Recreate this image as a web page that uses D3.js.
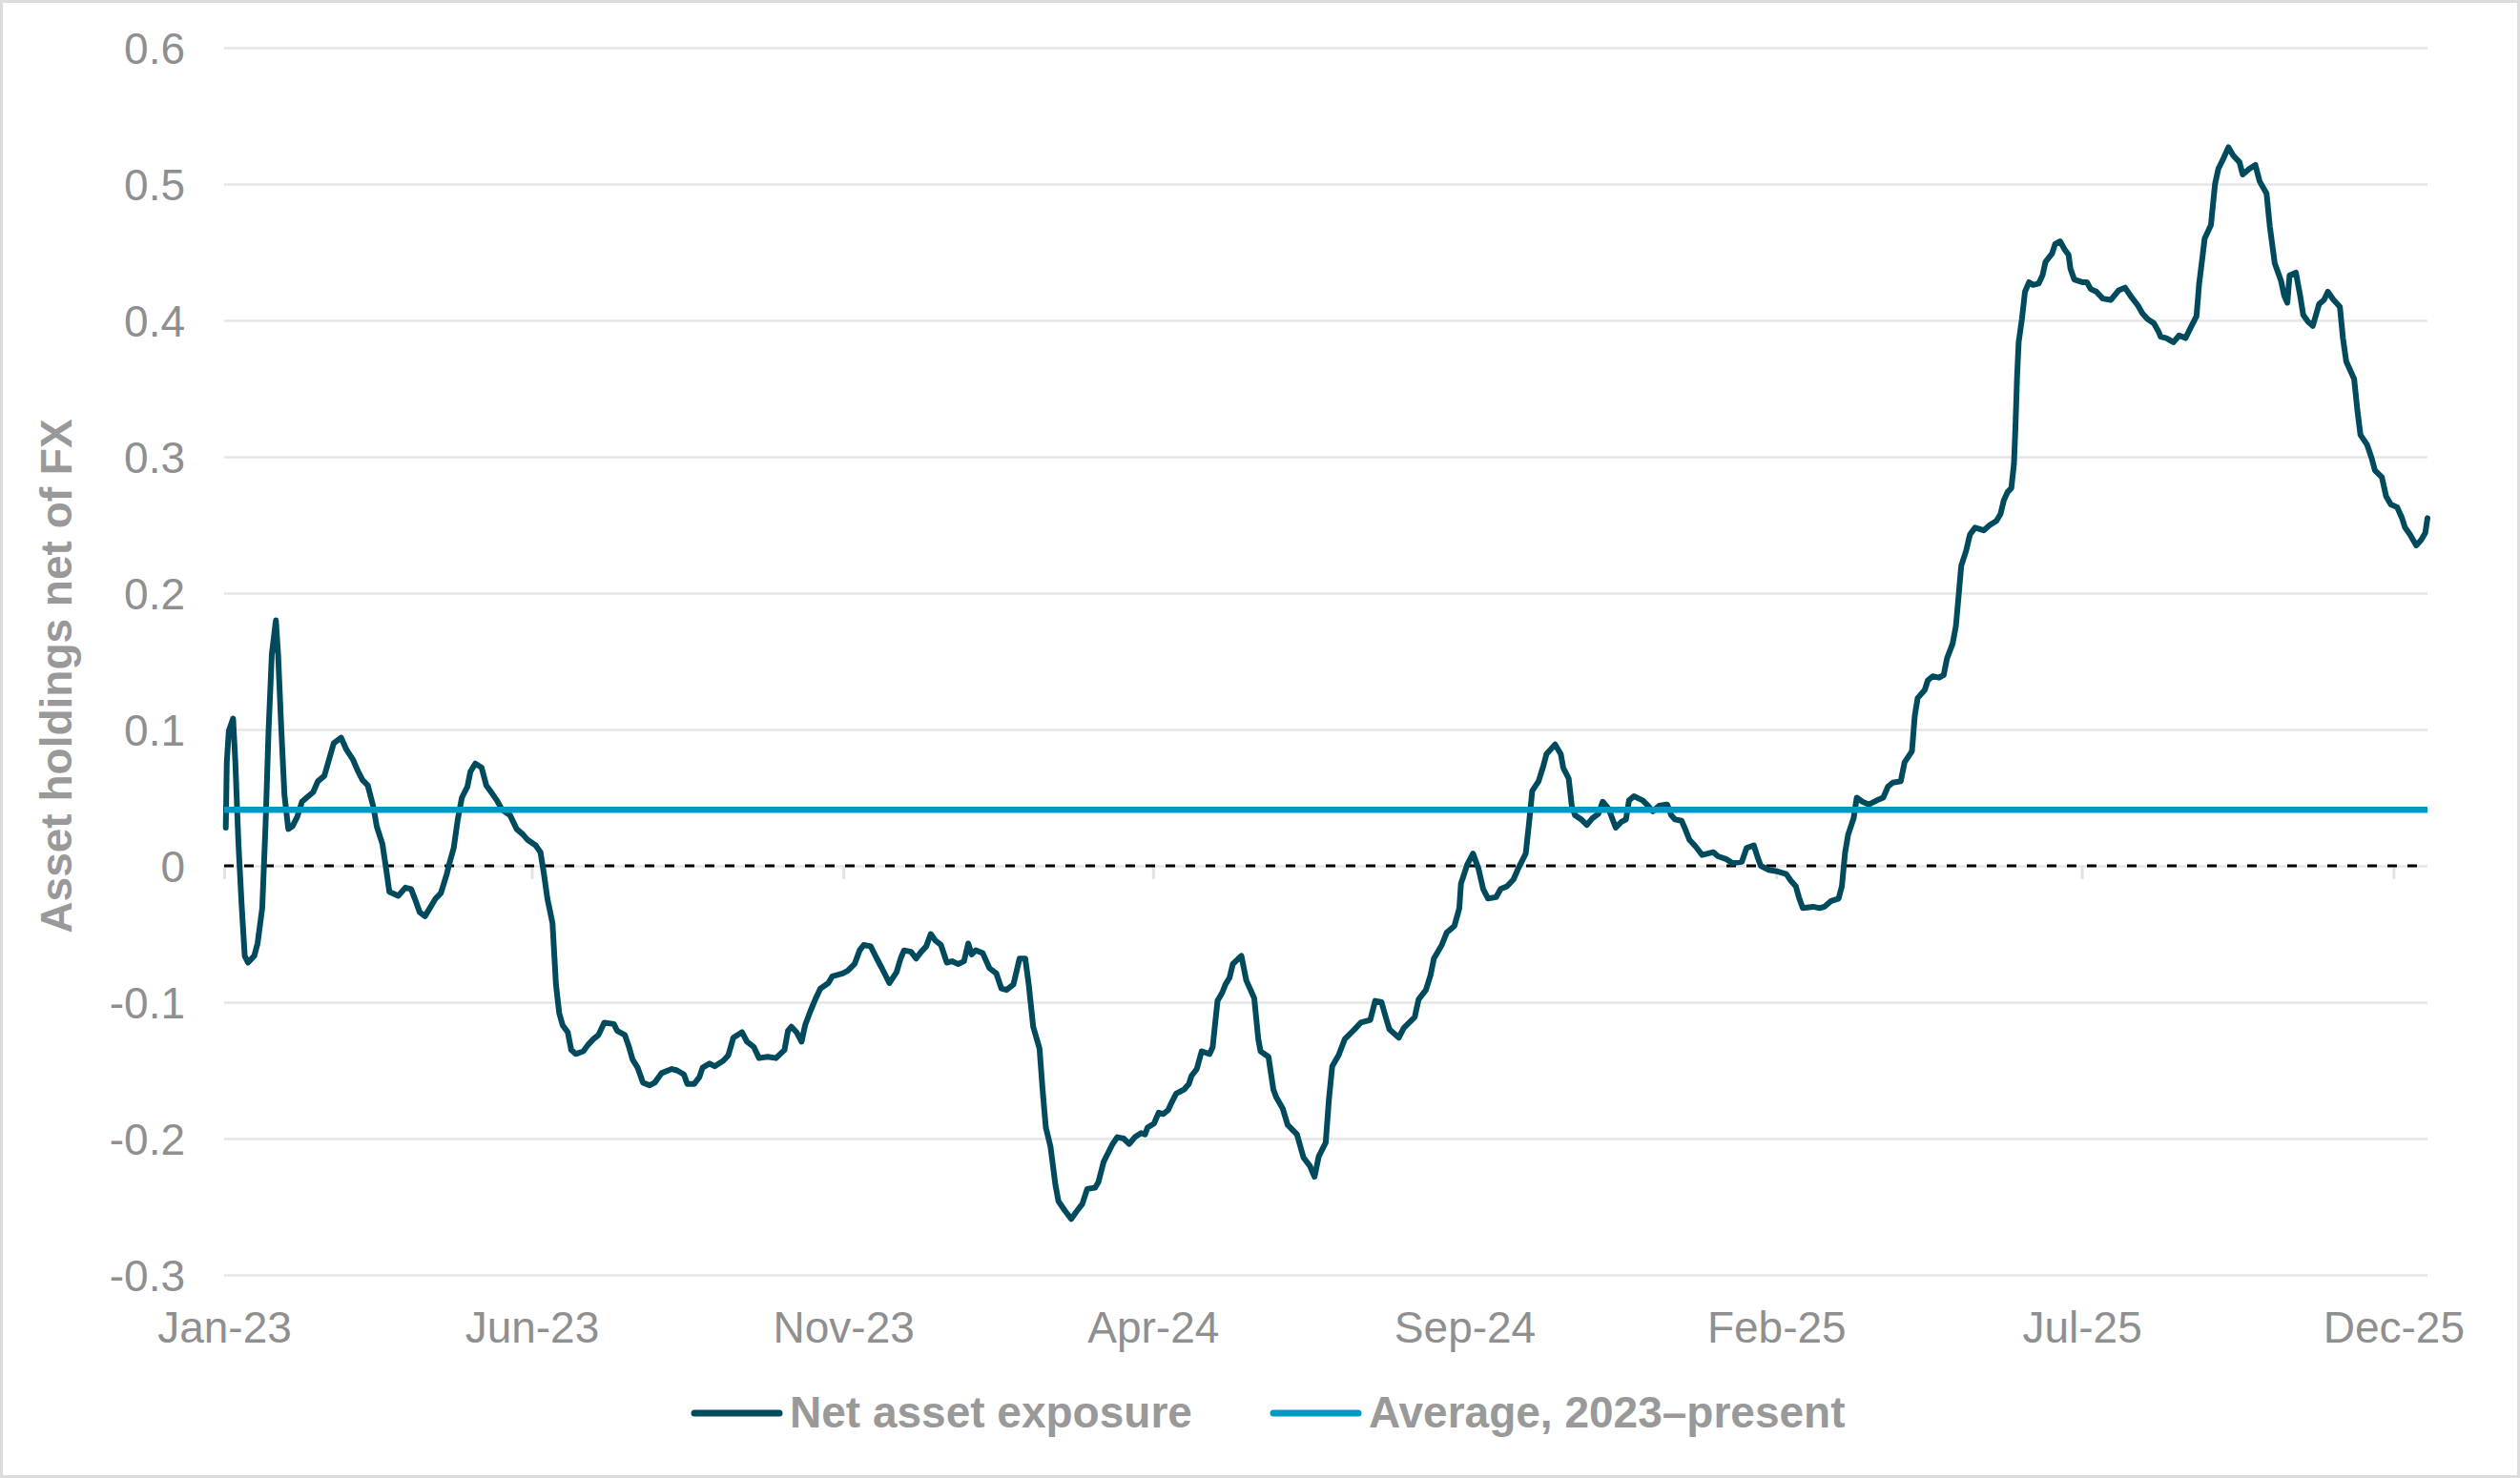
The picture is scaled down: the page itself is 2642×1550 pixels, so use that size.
<!DOCTYPE html>
<html>
<head>
<meta charset="utf-8">
<script src="https://cdn.jsdelivr.net/npm/d3@7"></script>
<style>
    body { margin: 0; background: #ffffff; }
    svg text { font-family: "Liberation Sans", Arial, sans-serif; }
</style>
</head>
<body>
<div id="chart-container"></div>
<script>
// Series start date; points are given as days elapsed since then
var startDate = "2023-01-01";

var dayOffsets = [
    // 2023 H1
    0.8, 1.3, 2.3, 4.4, 5.5, 7.0, 8.6, 10.1, 11.7, 14.8,
    16.4, 18.7, 20.3, 21.8, 23.4, 25.4, 26.5, 28.1, 29.6, 31.5,
    33.5, 35.9, 38.2, 40.5, 43.7, 46.0, 49.2, 51.5, 53.8, 57.4,
    60.1, 63.2, 65.5, 67.9, 70.5, 73.3, 74.9, 77.7, 79.6, 81.1,
    85.5, 89.0, 91.8, 93.6, 96.0, 98.6, 101.4, 103.8, 106.4, 109.3,
    110.8, 112.7, 114.7, 116.7, 119.4, 120.9, 123.3, 126.4, 128.7, 131.1,
    133.9, 136.5, 140.4, 143.6, 146.7, 149.0, 152.9, 155.3,
    // Jun 2023 - Jan 2024
    157.0, 158.7, 161.2, 162.9, 164.5, 166.2, 168.7, 170.4, 172.6, 176.3,
    178.8, 181.3, 183.8, 186.6, 191.3, 193.0, 196.7, 198.8, 200.5, 203.0,
    205.6, 208.9, 211.4, 214.8, 219.8, 222.3, 225.7, 227.4, 230.7, 233.3,
    234.9, 238.3, 240.8, 245.0, 247.5, 250.0, 254.2, 256.7, 260.1, 262.6,
    266.8, 270.9, 275.1, 276.8, 278.5, 281.0, 283.5, 285.2, 287.7, 290.2,
    292.7, 296.6, 298.6, 303.6, 306.1, 309.5, 312.0, 314.0, 317.4, 320.4,
    322.9, 326.6, 330.1, 332.1, 333.8, 337.2, 339.7, 342.2, 344.7, 346.9,
    349.3, 351.9, 354.8, 357.3, 360.3, 363.2, 365.3, 367.0, 369.0, 372.4,
    375.7, 379.1, 381.6, 384.1, 387.5, 390.5, 393.3, 395.0,
    // Feb 2024 - Sep 2024
    397.2, 400.3, 401.8, 403.4, 405.7, 408.1, 409.6, 412.8, 415.9, 418.2,
    421.3, 423.7, 427.6, 429.2, 431.8, 433.8, 436.2, 438.5, 441.6, 444.3,
    447.1, 450.2, 452.1, 453.3, 456.5, 458.8, 461.1, 463.5, 465.0, 467.4,
    471.3, 473.6, 474.9, 477.5, 479.9, 483.8, 485.3, 487.7, 490.0, 491.6,
    493.6, 495.2, 499.4, 501.8, 505.7, 507.7, 508.8, 512.7, 515.1, 516.6,
    519.7, 522.1, 526.7, 529.9, 533.0, 535.3, 537.4, 540.8, 542.4, 544.0,
    547.1, 550.2, 554.9, 558.0, 562.7, 565.1, 568.2, 569.7, 572.1, 576.7,
    579.1, 584.5, 586.4, 590.0, 592.3, 593.9, 597.8, 600.2, 604.0, 606.4,
    607.2, 610.3, 613.1, 615.8, 618.1, 620.5, 624.4, 626.7, 629.8, 633.0,
    635.3,
    // Oct 2024 - May 2025
    639.0, 640.6, 642.2, 645.3, 647.6, 649.2, 653.4, 656.2, 657.4, 660.1,
    661.6, 663.2, 666.3, 669.0, 671.8, 674.6, 676.8, 679.6, 683.2, 685.8,
    688.2, 689.7, 692.1, 696.4, 699.1, 701.4, 704.5, 708.4, 710.5, 712.3,
    715.5, 717.0, 719.4, 722.5, 725.6, 731.1, 733.4, 737.3, 740.4, 745.1,
    747.4, 751.0, 752.9, 754.4, 758.3, 762.2, 766.9, 769.2, 771.6, 773.1,
    775.0, 780.2, 783.3, 785.6, 788.7, 792.6, 794.2, 795.8, 797.3, 800.0,
    801.5, 804.3, 807.5, 811.4, 814.5, 816.8, 819.2, 823.1, 825.0, 828.6,
    // May 2025 - Dec 2025
    830.0, 831.4, 834.9, 836.4, 838.8, 841.9, 844.2, 845.8, 848.6, 850.2,
    851.7, 852.8, 855.2, 857.1, 859.6, 863.8, 866.9, 870.1, 872.1, 873.7,
    875.5, 877.4, 878.7, 879.4, 880.2, 881.0, 882.6, 884.1, 886.1, 888.0,
    890.8, 892.7, 894.2, 897.4, 898.9, 901.3, 903.6, 905.5, 906.4, 908.3,
    912.2, 914.5, 916.4, 919.2, 922.3, 926.2, 930.1, 933.2, 936.4, 939.5,
    941.8, 944.2, 947.3, 949.6, 950.7, 953.5, 957.0, 959.8, 962.9, 965.2,
    968.3, 969.6, 971.2, 972.3, 975.4, 977.4, 979.0, 981.6, 984.0, 986.3,
    989.4, 991.0, 994.1, 997.2, 999.3, 1002.7, 1004.3, 1006.7, 1009.8, 1011.4,
    1012.9, 1014.0, 1017.1, 1019.2, 1020.7, 1023.1, 1025.4, 1028.5, 1030.9, 1032.8,
    1035.6, 1038.7, 1040.2, 1041.8, 1045.7, 1047.3, 1048.8, 1052.0, 1054.3, 1055.9,
    1059.3, 1061.4, 1063.7, 1066.8, 1069.2, 1070.7, 1073.1, 1076.2, 1078.6, 1080.6,
    1081.7
];

var netExposure = [
    // 2023 H1
    0.028, 0.076, 0.099, 0.108, 0.076, 0.017, -0.029, -0.066, -0.071, -0.066,
    -0.057, -0.031, 0.029, 0.099, 0.155, 0.180, 0.155, 0.099, 0.052, 0.027,
    0.029, 0.036, 0.047, 0.050, 0.054, 0.062, 0.066, 0.078, 0.090, 0.094,
    0.085, 0.078, 0.070, 0.063, 0.059, 0.043, 0.029, 0.016, -0.003, -0.019,
    -0.022, -0.016, -0.017, -0.024, -0.034, -0.037, -0.030, -0.024, -0.020, -0.006,
    0.003, 0.013, 0.034, 0.050, 0.058, 0.069, 0.075, 0.072, 0.059, 0.054,
    0.048, 0.041, 0.037, 0.027, 0.023, 0.019, 0.015, 0.010,
    // Jun 2023 - Jan 2024
    -0.006, -0.024, -0.042, -0.087, -0.108, -0.117, -0.122, -0.135, -0.138, -0.136,
    -0.131, -0.127, -0.124, -0.115, -0.116, -0.121, -0.124, -0.133, -0.142, -0.148,
    -0.159, -0.161, -0.159, -0.152, -0.149, -0.150, -0.153, -0.160, -0.160, -0.155,
    -0.148, -0.145, -0.147, -0.143, -0.139, -0.126, -0.122, -0.129, -0.133, -0.141,
    -0.140, -0.141, -0.135, -0.121, -0.118, -0.122, -0.129, -0.117, -0.107, -0.098,
    -0.090, -0.086, -0.081, -0.079, -0.077, -0.072, -0.062, -0.058, -0.059, -0.068,
    -0.075, -0.086, -0.078, -0.068, -0.062, -0.063, -0.068, -0.063, -0.059, -0.050,
    -0.055, -0.058, -0.071, -0.070, -0.072, -0.070, -0.057, -0.065, -0.062, -0.064,
    -0.075, -0.079, -0.090, -0.091, -0.087, -0.068, -0.068, -0.087,
    // Feb 2024 - Sep 2024
    -0.118, -0.134, -0.164, -0.192, -0.206, -0.234, -0.246, -0.253, -0.259, -0.254,
    -0.248, -0.237, -0.236, -0.232, -0.217, -0.211, -0.204, -0.199, -0.200, -0.204,
    -0.199, -0.196, -0.197, -0.192, -0.189, -0.181, -0.182, -0.179, -0.174, -0.167,
    -0.164, -0.160, -0.154, -0.149, -0.136, -0.138, -0.133, -0.099, -0.093, -0.087,
    -0.082, -0.072, -0.066, -0.084, -0.097, -0.127, -0.136, -0.140, -0.164, -0.170,
    -0.178, -0.190, -0.197, -0.214, -0.220, -0.228, -0.213, -0.203, -0.171, -0.147,
    -0.139, -0.127, -0.120, -0.115, -0.113, -0.099, -0.100, -0.108, -0.120, -0.126,
    -0.119, -0.111, -0.098, -0.091, -0.080, -0.068, -0.058, -0.049, -0.044, -0.031,
    -0.013, 0.001, 0.009, -0.002, -0.017, -0.024, -0.023, -0.017, -0.015, -0.010,
    -0.002,
    // Oct 2024 - May 2025
    0.009, 0.031, 0.055, 0.062, 0.073, 0.082, 0.089, 0.082, 0.072, 0.064,
    0.044, 0.037, 0.034, 0.030, 0.035, 0.038, 0.047, 0.042, 0.028, 0.032,
    0.034, 0.048, 0.051, 0.048, 0.044, 0.040, 0.044, 0.045, 0.037, 0.034,
    0.033, 0.028, 0.019, 0.014, 0.008, 0.010, 0.007, 0.005, 0.002, 0.003,
    0.013, 0.015, 0.006, 0.000, -0.003, -0.004, -0.006, -0.011, -0.015, -0.023,
    -0.031, -0.030, -0.031, -0.030, -0.026, -0.024, -0.015, 0.010, 0.023, 0.035,
    0.050, 0.047, 0.045, 0.048, 0.050, 0.058, 0.061, 0.062, 0.076, 0.084,
    // May 2025 - Dec 2025
    0.110, 0.123, 0.129, 0.136, 0.139, 0.138, 0.140, 0.152, 0.163, 0.176,
    0.201, 0.220, 0.231, 0.243, 0.248, 0.246, 0.250, 0.253, 0.258, 0.268,
    0.274, 0.277, 0.295, 0.321, 0.358, 0.384, 0.401, 0.421, 0.428, 0.426,
    0.427, 0.433, 0.443, 0.449, 0.456, 0.458, 0.452, 0.448, 0.438, 0.430,
    0.428, 0.428, 0.423, 0.421, 0.416, 0.415, 0.422, 0.424, 0.417, 0.411,
    0.405, 0.401, 0.398, 0.392, 0.388, 0.387, 0.384, 0.389, 0.387, 0.394,
    0.403, 0.427, 0.446, 0.460, 0.470, 0.500, 0.511, 0.519, 0.527, 0.521,
    0.516, 0.507, 0.511, 0.514, 0.502, 0.493, 0.469, 0.442, 0.429, 0.418,
    0.413, 0.433, 0.435, 0.418, 0.404, 0.399, 0.396, 0.412, 0.415, 0.421,
    0.415, 0.410, 0.387, 0.370, 0.357, 0.334, 0.316, 0.309, 0.299, 0.290,
    0.285, 0.271, 0.265, 0.263, 0.255, 0.248, 0.243, 0.235, 0.239, 0.244,
    0.255
];

// Average over the whole period
var averageLevel = 0.041;

var yTicks = [0.6, 0.5, 0.4, 0.3, 0.2, 0.1, 0, -0.1, -0.2, -0.3];
var xTickDates = ["2023-01-01", "2023-06-01", "2023-11-01", "2024-04-01",
                  "2024-09-01", "2025-02-01", "2025-07-01", "2025-12-01"];
var xTickLabels = ["Jan-23", "Jun-23", "Nov-23", "Apr-24", "Sep-24", "Feb-25", "Jul-25", "Dec-25"];
var seriesNames = ["Net asset exposure", "Average, 2023\u2013present"];
var seriesColors = ["#004a5e", "#0099c7"];

createChart();

function createChart() {
    var width = 2642, height = 1550;
    var plotLeft = 235, plotRight = 2545, plotTop = 50, plotBottom = 1337;
    var textGray = "#8f8f8f";

    var parseDate = d3.utcParse("%Y-%m-%d");
    var start = parseDate(startDate);
    var toDate = function(days) { return new Date(start.getTime() + days * 864e5); };

    var data = dayOffsets.map(function(d, i) {
        return {date: toDate(d), value: netExposure[i]};
    });

    var svg = d3.select("#chart-container")
        .append("svg")
        .attr("width", width)
        .attr("height", height);

    // Light frame round the chart
    svg.append("rect")
        .attr("x", 1.5).attr("y", 1.5)
        .attr("width", width - 3).attr("height", height - 3)
        .attr("fill", "#ffffff")
        .attr("stroke", "#dcdcdc")
        .attr("stroke-width", 3);

    var xScale = d3.scaleUtc()
        .domain([start, data[data.length - 1].date])
        .range([plotLeft, plotRight]);

    var yScale = d3.scaleLinear()
        .domain([-0.3, 0.6])
        .range([plotBottom, plotTop]);

    // Horizontal gridlines
    svg.append("g")
        .attr("transform", "translate(" + plotLeft + ",0)")
        .call(d3.axisLeft(yScale).tickValues(yTicks).tickSize(-(plotRight - plotLeft)).tickFormat(""))
        .call(function(g) {
            g.select(".domain").remove();
            g.selectAll("line").attr("stroke", "#e6e6e6").attr("stroke-width", 2.5);
        });

    // Small tick marks hanging from the zero line
    svg.append("g")
        .attr("transform", "translate(0," + yScale(0) + ")")
        .call(d3.axisBottom(xScale).tickValues(xTickDates.map(parseDate)).tickSize(14).tickFormat(""))
        .call(function(g) {
            g.select(".domain").remove();
            g.selectAll("line").attr("stroke", "#e3e3e3").attr("stroke-width", 3);
        });

    // Y-axis labels
    svg.append("g")
        .attr("transform", "translate(" + plotLeft + ",0)")
        .call(d3.axisLeft(yScale).tickValues(yTicks).tickSize(0).tickPadding(41)
            .tickFormat(function(d) { return d === 0 ? "0" : d.toFixed(1); }))
        .call(function(g) {
            g.select(".domain").remove();
            g.selectAll("text")
                .attr("dy", "0.35em")
                .attr("fill", textGray)
                .style("font-size", "46px");
        });

    // X-axis labels at the bottom of the plot
    svg.append("g")
        .attr("transform", "translate(0," + plotBottom + ")")
        .call(d3.axisBottom(xScale).tickValues(xTickDates.map(parseDate)).tickSize(0).tickPadding(38)
            .tickFormat(function(d, i) { return xTickLabels[i]; }))
        .call(function(g) {
            g.select(".domain").remove();
            g.selectAll("text")
                .attr("fill", textGray)
                .style("font-size", "46px");
        });

    // Dashed zero line
    svg.append("line")
        .attr("x1", plotLeft).attr("x2", plotRight)
        .attr("y1", yScale(0)).attr("y2", yScale(0))
        .attr("stroke", "#000000")
        .attr("stroke-width", 3)
        .attr("stroke-dasharray", "10,11");

    // Net asset exposure line
    var line = d3.line()
        .x(function(d) { return xScale(d.date); })
        .y(function(d) { return yScale(d.value); });

    svg.append("path")
        .datum(data)
        .attr("fill", "none")
        .attr("stroke", seriesColors[0])
        .attr("stroke-width", 6)
        .attr("stroke-linejoin", "round")
        .attr("stroke-linecap", "round")
        .attr("d", line);

    // Average line
    svg.append("path")
        .datum([{date: xScale.domain()[0], value: averageLevel}, {date: xScale.domain()[1], value: averageLevel}])
        .attr("fill", "none")
        .attr("stroke", seriesColors[1])
        .attr("stroke-width", 6.5)
        .attr("d", line);

    // Y-axis title
    svg.append("text")
        .attr("transform", "translate(75,709) rotate(-90)")
        .attr("text-anchor", "middle")
        .attr("fill", "#999999")
        .style("font-size", "46px")
        .style("font-weight", "bold")
        .text("Asset holdings net of FX");

    // Legend
    var legendX = [725, 1332];
    var legend = svg.append("g")
        .selectAll("g")
        .data(seriesNames)
        .enter().append("g")
        .attr("transform", function(d, i) { return "translate(" + legendX[i] + ",1482)"; });

    legend.append("line")
        .attr("x1", 3).attr("x2", 92)
        .attr("stroke", function(d, i) { return seriesColors[i]; })
        .attr("stroke-width", 7)
        .attr("stroke-linecap", "round");

    legend.append("text")
        .attr("x", 103)
        .attr("y", 15)
        .attr("fill", "#999999")
        .style("font-size", "46px")
        .style("font-weight", "bold")
        .text(function(d) { return d; });
}
</script>
</body>
</html>
